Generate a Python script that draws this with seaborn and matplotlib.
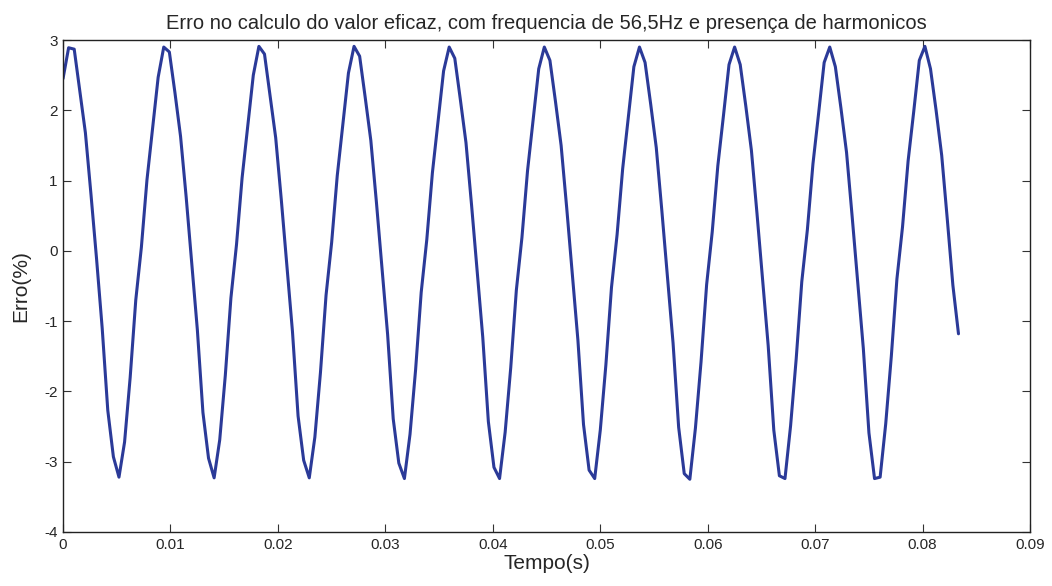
import numpy as np
import pandas as pd
import seaborn as sns
import matplotlib
matplotlib.use("Agg")
import matplotlib.pyplot as plt

# taxa de amostragem (amostras/s) - 32 amostras por ciclo de 60Hz
fs = 1920.0

# erro (%), uma linha por ciclo de ~17 amostras
erro = [
    2.45, 2.89, 2.87, 2.27, 1.68, 0.80, -0.12, -1.10, -2.27, -2.93, -3.22, -2.72, -1.80, -0.70, 0.05, 1.01, 1.74,
    2.47, 2.90, 2.83, 2.25, 1.63, 0.77, -0.17, -1.12, -2.30, -2.95, -3.23, -2.69, -1.77, -0.67, 0.09, 1.04, 1.77,
    2.50, 2.91, 2.80, 2.21, 1.61, 0.73, -0.21, -1.15, -2.35, -2.98, -3.23, -2.65, -1.73, -0.63, 0.12, 1.07, 1.80,
    2.53, 2.91, 2.77, 2.18, 1.57, 0.69, -0.25, -1.19, -2.39, -3.02, -3.24, -2.61, -1.69, -0.59, 0.16, 1.11, 1.83,
    2.56, 2.90, 2.74, 2.15, 1.54, 0.65, -0.29, -1.23, -2.43, -3.08, -3.24, -2.58, -1.66, -0.56, 0.19, 1.14, 1.86,
    2.59, 2.90, 2.71, 2.12, 1.50, 0.61, -0.33, -1.27, -2.47, -3.12, -3.24, -2.55, -1.62, -0.52, 0.23, 1.17, 1.89,
    2.62, 2.90, 2.68, 2.09, 1.47, 0.57, -0.37, -1.31, -2.51, -3.17, -3.25, -2.52, -1.58, -0.48, 0.27, 1.21, 1.92,
    2.65, 2.90, 2.65, 2.06, 1.43, 0.53, -0.41, -1.35, -2.55, -3.20, -3.24, -2.49, -1.54, -0.44, 0.30, 1.24, 1.95,
    2.68, 2.90, 2.62, 2.03, 1.40, 0.49, -0.45, -1.39, -2.59, -3.24, -3.22, -2.46, -1.50, -0.40, 0.34, 1.28, 1.98,
    2.71, 2.91, 2.59, 2.00, 1.36, 0.45, -0.49, -1.18,
]

xticks = [0, 0.01, 0.02, 0.03, 0.04, 0.05, 0.06, 0.07, 0.08, 0.09]
xticklabels = ["0", "0.01", "0.02", "0.03", "0.04", "0.05", "0.06", "0.07", "0.08", "0.09"]
yticks = [-4, -3, -2, -1, 0, 1, 2, 3]
yticklabels = ["-4", "-3", "-2", "-1", "0", "1", "2", "3"]

df = pd.DataFrame({"tempo": np.arange(len(erro)) / fs, "erro": erro})

sns.set_style("ticks")
plt.rcParams["font.family"] = ["Liberation Sans", "DejaVu Sans"]
plt.rcParams["axes.unicode_minus"] = False

fig = plt.figure(figsize=(10.52, 5.86), dpi=100)
ax = fig.add_axes([0.0599, 0.0922, 0.9193, 0.8395])

sns.lineplot(data=df, x="tempo", y="erro", ax=ax, color="#2b3a98", linewidth=2.2)

ax.set_xlim(0, 0.09)
ax.set_ylim(-4, 3)
ax.set_xticks(xticks)
ax.set_xticklabels(xticklabels, fontsize=11)
ax.set_yticks(yticks)
ax.set_yticklabels(yticklabels, fontsize=11)
ax.tick_params(direction="in", top=True, right=True, length=6, width=0.8, color="#333333", pad=4)
for s in ax.spines.values():
    s.set_linewidth(1.0)
    s.set_color("#222222")

ax.set_xlabel("Tempo(s)", fontsize=15, labelpad=2)
ax.set_ylabel("Erro(%)", fontsize=15, labelpad=10)
ax.set_title("Erro no calculo do valor eficaz, com frequencia de 56,5Hz e presença de harmonicos",
             fontsize=14.5, pad=8)

fig.savefig("out.png", dpi=100)
